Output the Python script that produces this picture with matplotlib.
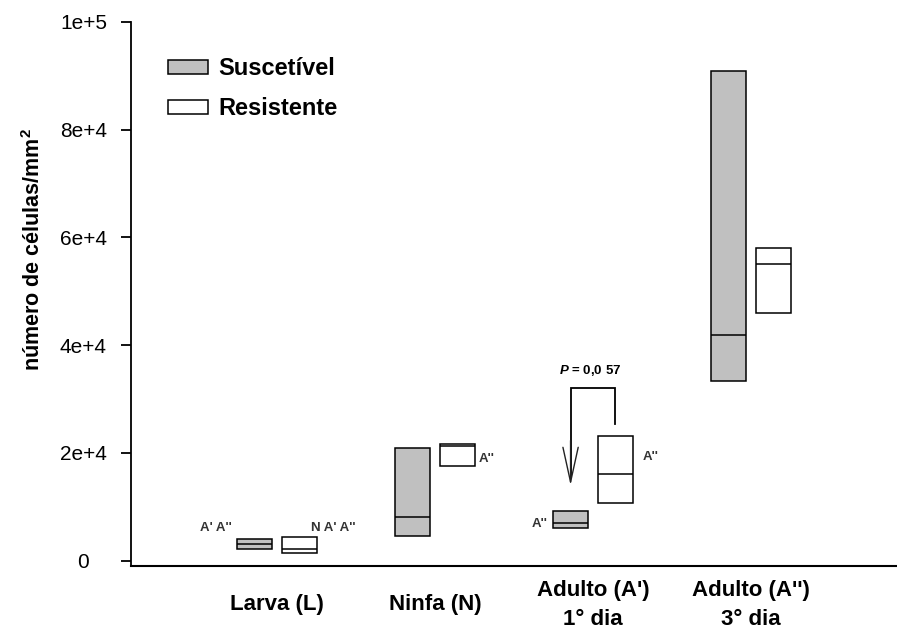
import numpy as np
import matplotlib
matplotlib.use("Agg")
import matplotlib.pyplot as plt
from matplotlib.patches import Patch

plt.rcParams['font.family'] = ['Liberation Sans', 'DejaVu Sans']
plt.rcParams['mathtext.fontset'] = 'custom'
plt.rcParams['mathtext.it'] = 'Liberation Sans:italic:bold'
plt.rcParams['mathtext.rm'] = 'Liberation Sans:bold'

# Cells per mm2 for each stage: box bottom, median and top
stages = ["Larva (L)", "Ninfa (N)", "Adulto (A')\n1° dia", "Adulto (A'')\n3° dia"]
susc_low = [2100, 4600, 6000, 33400]
susc_med = [3100, 8200, 7050, 41900]
susc_high = [3950, 21000, 9300, 90850]
res_low = [1400, 17600, 10650, 46000]
res_med = [2100, 21350, 16000, 55000]
res_high = [4350, 21700, 23150, 58000]

# Significance letters next to boxes (group, series, y position, text, x offset)
letters = [(0, 'S', 6100, "A' A''", -4),
           (0, 'R', 6100, "N A' A''", -4),
           (1, 'R', 18900, "A''", 3),
           (2, 'S', 6900, "A''", -4),
           (2, 'R', 19300, "A''", 7)]
p_text = r"$\mathit{P}$ = 0,0 57"

fig = plt.figure(figsize=(8.97, 6.32), dpi=100)
ax = fig.add_axes([0.1457, 0.1044, 0.8543, 0.8612])

x = np.arange(len(stages))
off = 0.142
w = 0.222

ax.bar(x - off, np.subtract(susc_high, susc_low), bottom=susc_low, width=w,
       color='#c0c0c0', edgecolor='black', linewidth=1.1)
ax.bar(x + off, np.subtract(res_high, res_low), bottom=res_low, width=w,
       color='white', edgecolor='black', linewidth=1.1)
ax.hlines(susc_med, x - off - w / 2, x - off + w / 2, color='black', linewidth=1.1)
ax.hlines(res_med, x + off - w / 2, x + off + w / 2, color='black', linewidth=1.1)

for g, s, yv, t, dx in letters:
    if s == 'S':
        ax.annotate(t, xy=(g - off - w / 2, yv), xytext=(dx, 0),
                    textcoords='offset points', ha='right', va='center',
                    fontsize=9.5, fontweight='bold', color='#333333')
    else:
        ax.annotate(t, xy=(g + off + w / 2, yv), xytext=(dx, 0),
                    textcoords='offset points', ha='left', va='center',
                    fontsize=9.5, fontweight='bold', color='#333333')

# bracket between the two adult (day 1) boxes
xl = 2 - off
xr = 2 + off
top = 32000
ax.plot([xr, xr, xl, xl], [res_high[2] + 2300, top, top, susc_high[2] + 6500],
        color='black', linewidth=1.3, solid_joinstyle='miter')
ax.annotate('', xy=(xl, susc_high[2] + 4700), xytext=(xl, susc_high[2] + 13000),
            arrowprops=dict(arrowstyle='->, head_length=2.5, head_width=0.55',
                            color='#222222', linewidth=1.0, shrinkA=0, shrinkB=0))
ax.text((xl + xr) / 2 - 0.015, top + 3300, p_text, ha='center', va='center',
        fontsize=9.5, fontweight='bold')

ax.set_xlim(-0.926, 3.924)
ax.set_ylim(-983, 100000)
ax.set_yticks([0, 20000, 40000, 60000, 80000, 100000])
ax.set_yticklabels(['0', '2e+4', '4e+4', '6e+4', '8e+4', '1e+5'], ha='center')
ax.tick_params(axis='y', length=7, width=1.3, pad=27, labelsize=15)
ax.set_xticks(x)
ax.set_xticklabels(stages, fontsize=16, fontweight='bold', va='center',
                   linespacing=1.55)
ax.tick_params(axis='x', length=0, pad=28)

for side in ['top', 'right']:
    ax.spines[side].set_visible(False)
ax.spines['left'].set_linewidth(1.3)
ax.spines['bottom'].set_linewidth(1.5)

fig.text(34 / 897, 1 - 250 / 632, 'número de células/mm$^2$', rotation=90,
         ha='center', va='center', fontsize=15.5, fontweight='bold')

handles = [Patch(facecolor='#c0c0c0', edgecolor='black', linewidth=1.1),
           Patch(facecolor='white', edgecolor='black', linewidth=1.1)]
ax.legend(handles, ['Suscetível', 'Resistente'], loc='upper left',
          bbox_to_anchor=(168 / 897, 1 - 57 / 632), bbox_transform=fig.transFigure,
          frameon=False, borderpad=0, borderaxespad=0,
          prop={'size': 17, 'weight': 'bold'},
          handlelength=1.7, handleheight=0.55, handletextpad=0.42,
          labelspacing=0.73)

plt.savefig('out.png', dpi=100)
